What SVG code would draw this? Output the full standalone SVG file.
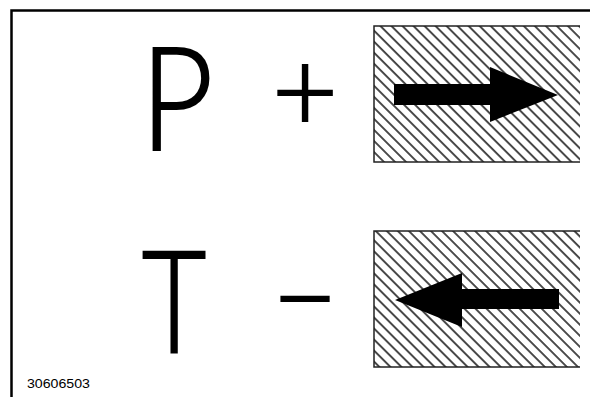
<svg xmlns="http://www.w3.org/2000/svg" width="590" height="397" viewBox="0 0 590 397">
<style>
.big{font-family:Lato,"Liberation Sans",sans-serif;font-weight:300;fill:#000;stroke:#000;stroke-width:2;text-anchor:middle}
.box{fill:url(#hatch);stroke:#222;stroke-width:1.5}
.arrow{fill:#000}
.code{font-family:"Liberation Sans",Arial,sans-serif;font-size:12.5px;fill:#000}
</style>
<defs>
<pattern id="hatch" patternUnits="userSpaceOnUse" width="7.8" height="10" patternTransform="rotate(-45)">
<line x1="1" y1="0" x2="1" y2="10" stroke="#111" stroke-width="1.5"/>
</pattern>
</defs>
<rect width="590" height="397" fill="#fff"/>
<path d="M11.5 397 V10.5 H590" fill="none" stroke="#000" stroke-width="2.5"/>
<g id="P"><text class="big" transform="translate(177 150) scale(0.88 1)" font-size="144">P</text></g>
<g id="plus"><text class="big" x="305" y="131" font-size="114">+</text></g>
<g id="T"><text class="big" transform="translate(174 353) scale(0.78 1)" font-size="143">T</text></g>
<g id="minus"><text class="big" x="305" y="337" font-size="114">−</text></g>
<g id="box-right">
<path class="box" d="M580 26 H374 V162 H580"/>
<polygon class="arrow" points="394,84 490,84 490,67 558,95 490,122 490,105 394,105"/>
</g>
<g id="box-left">
<path class="box" d="M580 231 H374 V367 H580"/>
<polygon class="arrow" points="559,289 462,289 462,273 395,300 462,327 462,309 559,309"/>
</g>
<g id="connectors"></g>
<text class="code" x="27" y="388" textLength="63" lengthAdjust="spacingAndGlyphs">30606503</text>
</svg>
